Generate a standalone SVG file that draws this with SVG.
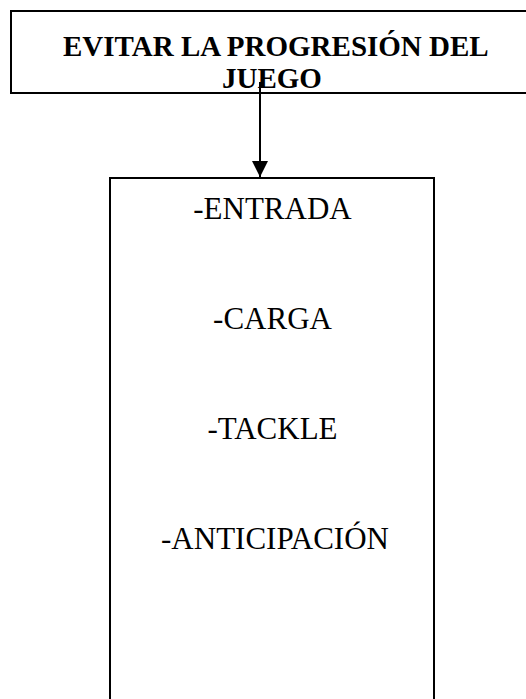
<svg xmlns="http://www.w3.org/2000/svg" width="526" height="699" viewBox="0 0 526 699">
<style>
.box{fill:#fff;stroke:#000;stroke-width:2}
.title{font-family:"Liberation Serif","Times New Roman",serif;font-weight:bold;font-size:29px;fill:#000}
.item{font-family:"Liberation Serif","Times New Roman",serif;font-size:31px;fill:#000;text-anchor:middle}
.conn{stroke:#000;stroke-width:2;fill:none}
</style>
<defs>
<marker id="ah" viewBox="0 0 16 16" refX="16" refY="8" markerWidth="16" markerHeight="16" markerUnits="userSpaceOnUse" orient="auto">
<path d="M0,0 L16,8 L0,16 Z" fill="#000"/>
</marker>
</defs>
<g id="node-top">
<rect class="box" x="11" y="11" width="530" height="82"/>
<text class="title" x="63" y="56">EVITAR LA PROGRESIÓN DEL</text>
<text class="title" x="222" y="88">JUEGO</text>
</g>
<g id="node-list">
<rect class="box" x="110" y="178" width="324" height="540"/>
<text class="item" x="272.5" y="219">-ENTRADA</text>
<text class="item" x="272.5" y="329">-CARGA</text>
<text class="item" x="272.5" y="439">-TACKLE</text>
<text class="item" x="275" y="549">-ANTICIPACIÓN</text>
</g>
<g id="connectors">
<line class="conn" x1="260" y1="82" x2="260" y2="177" marker-end="url(#ah)"/>
</g>
</svg>
